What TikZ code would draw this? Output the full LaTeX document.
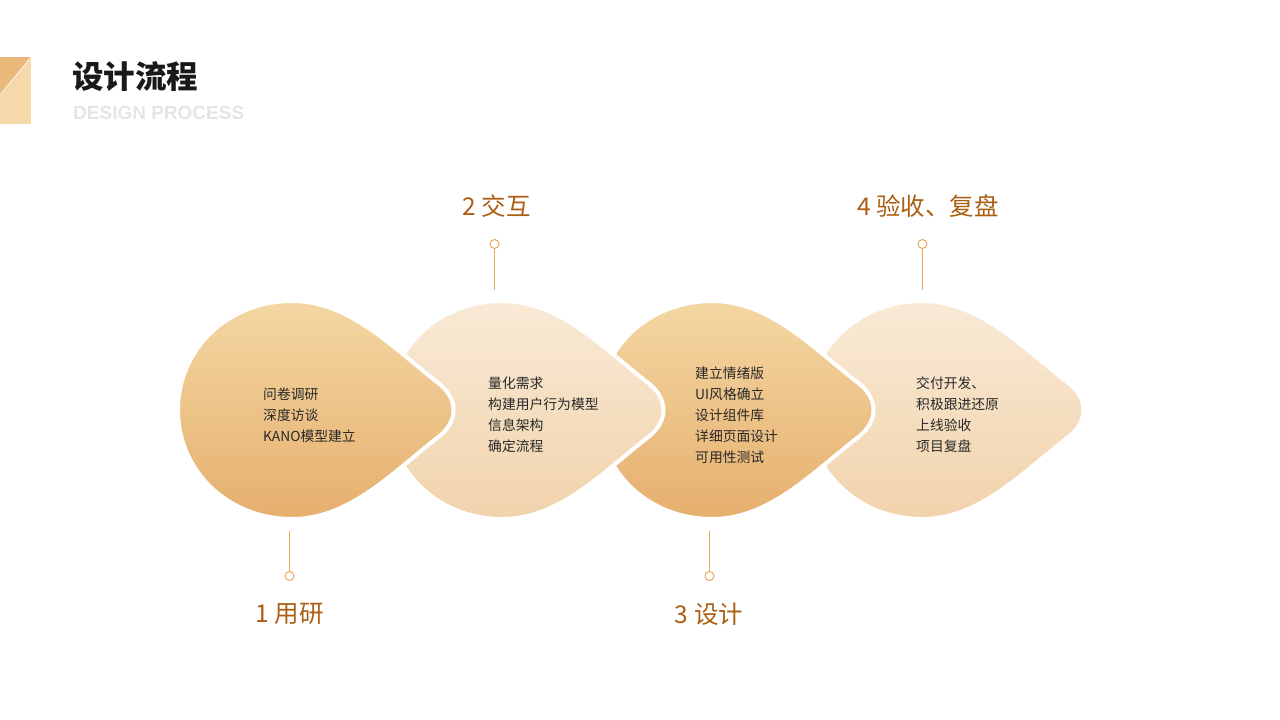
\documentclass[tikz,border=0pt]{standalone}
\usepackage{fontspec}
\setmainfont{Noto Sans CJK SC}
\newfontfamily\latinbold{Liberation Sans}
\definecolor{darktop}{RGB}{244,215,163}
\definecolor{darkbot}{RGB}{230,175,110}
\definecolor{lighttop}{RGB}{249,234,214}
\definecolor{lightbot}{RGB}{241,211,172}
\definecolor{labelcol}{RGB}{172,94,18}
\definecolor{leadcol}{RGB}{234,168,92}
\definecolor{bodytext}{RGB}{40,40,40}
\definecolor{subtitle}{RGB}{229,229,229}
\definecolor{cornerdark}{RGB}{232,182,120}
\definecolor{cornerlight}{RGB}{245,217,170}
\newcommand{\dropshape}[2]{%
  \path[#2] (#1+5,301) .. controls (#1+62,301) and (#1+104,346) .. (#1+150,382)
    .. controls (#1+172,398) and (#1+172,422) .. (#1+150,438)
    .. controls (#1+104,474) and (#1+62,519) .. (#1+5,519)
    .. controls (#1-60,519) and (#1-109,470) .. (#1-109,410)
    .. controls (#1-109,350) and (#1-60,301) .. (#1+5,301) -- cycle;}
\tikzset{
  darkdrop/.style={top color=darktop,bottom color=darkbot,draw=white,line width=4pt},
  lightdrop/.style={top color=lighttop,bottom color=lightbot,draw=white,line width=4pt},
  bodytxt/.style={anchor=west,inner sep=0pt,align=left,text=bodytext,font=\fontsize{13.8}{21}\selectfont},
  steplabel/.style={inner sep=0pt,text=labelcol,font=\fontsize{24.5}{28}\selectfont},
  leadline/.style={draw=leadcol,line width=1pt},
  leaddot/.style={circle,draw=leadcol,fill=white,line width=1pt,minimum size=9pt,inner sep=0pt}
}
\begin{document}
\begin{tikzpicture}[x=1pt,y=-1pt]
\useasboundingbox (0,0) rectangle (1280,720);
\fill[white] (0,0) rectangle (1280,720);
% corner mark
\fill[cornerlight] (0,57) rectangle (31,124);
\shade[top color=cornerdark,bottom color=cornerdark!80!cornerlight] (0,57) -- (31,57) -- (0,95) -- cycle;
\draw[white!70!cornerlight,line width=0.8pt] (31,57) -- (0,95);
% title
\node[anchor=west,inner sep=0pt,font=\fontsize{31.5}{34}\selectfont\bfseries,text=black!90] (title) at (72,77) {设计流程};
\node[anchor=west,inner sep=0pt,font=\latinbold\fontsize{19}{22}\selectfont\bfseries,text=subtitle] (subt) at (73,113) {DESIGN PROCESS};
% drops (drawn back to front)
\dropshape{917}{lightdrop}
\dropshape{707}{darkdrop}
\dropshape{497}{lightdrop}
\dropshape{287}{darkdrop}
% body texts
\node[bodytxt] (t1) at (263,415) {问卷调研\\深度访谈\\KANO模型建立};
\node[bodytxt] (t2) at (488,414.5) {量化需求\\构建用户行为模型\\信息架构\\确定流程};
\node[bodytxt] (t3) at (695,415) {建立情绪版\\UI风格确立\\设计组件库\\详细页面设计\\可用性测试};
\node[bodytxt] (t4) at (916,414.5) {交付开发、\\积极跟进还原\\上线验收\\项目复盘};
% leaders
\coordinate (e1) at (289.5,531);
\coordinate (e2) at (494.5,290);
\coordinate (e3) at (709.5,531);
\coordinate (e4) at (922.5,290);
\node[leaddot] (d1) at (289.5,576) {};
\node[leaddot] (d2) at (494.5,244) {};
\node[leaddot] (d3) at (709.5,576) {};
\node[leaddot] (d4) at (922.5,244) {};
\draw[leadline] (e1) -- (d1);
\draw[leadline] (d2) -- (e2);
\draw[leadline] (e3) -- (d3);
\draw[leadline] (d4) -- (e4);
% step labels
\node[steplabel] (l1) at (289.5,614) {1 用研};
\node[steplabel] (l2) at (496.5,206) {2 交互};
\node[steplabel] (l3) at (709,614) {3 设计};
\node[steplabel] (l4) at (928,206) {4 验收、复盘};
\end{tikzpicture}
\end{document}
